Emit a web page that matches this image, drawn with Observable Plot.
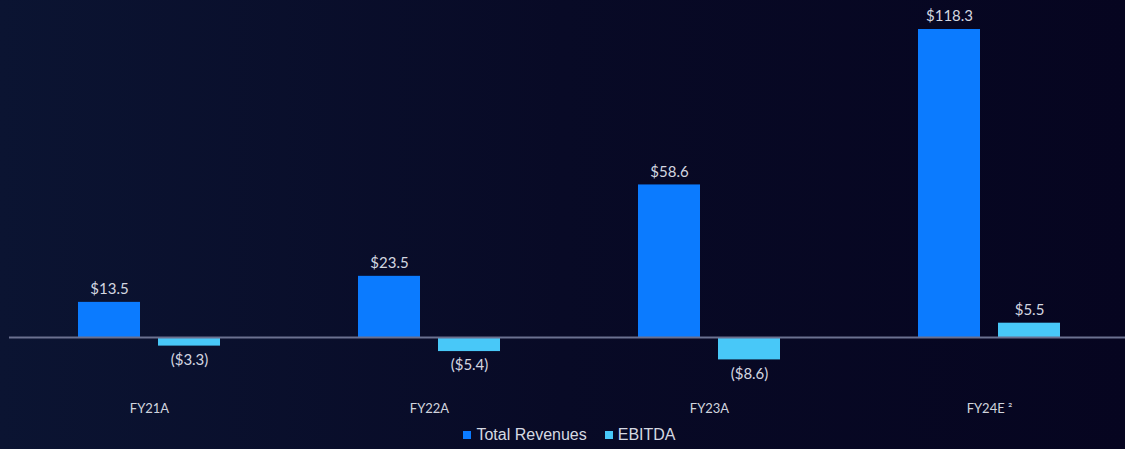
<!DOCTYPE html>
<html>
<head>
<meta charset="utf-8">
<script src="https://cdn.jsdelivr.net/npm/d3@7"></script>
<script src="https://cdn.jsdelivr.net/npm/@observablehq/plot@0.6"></script>
<style>
  html, body { margin: 0; padding: 0; }
  body { width: 1125px; height: 449px; overflow: hidden;
         background: linear-gradient(90deg, #0b1432 0%, #080a26 50%, #060520 100%); }
  #legend { height: 29px; display: flex; justify-content: center; align-items: center;
            font-family: "Liberation Sans", Arial, sans-serif; font-size: 16px; color: #d6d9e2;
            padding-left: 14px; box-sizing: border-box; }
  #legend .item { display: flex; align-items: center; margin: 0 9px; }
  #legend .sw { width: 8px; height: 8px; margin-right: 5px; }
</style>
</head>
<body>
<div id="chart"></div>
<div id="legend"></div>
<script>
const years = ["FY21A", "FY22A", "FY23A", "FY24E"];
const yearLabels = ["FY21A", "FY22A", "FY23A", "FY24E ²"];
const series = ["Total Revenues", "EBITDA"];
const revenues = [13.5, 23.5, 58.6, 118.3];
const ebitda = [-3.3, -5.4, -8.6, 5.5];
const colors = ["#0b7bff", "#48c8f8"];

const data = [];
years.forEach((yr, i) => {
  data.push({year: yr, series: series[0], value: revenues[i]});
  data.push({year: yr, series: series[1], value: ebitda[i]});
});
const fmt = v => v < 0 ? `($${Math.abs(v).toFixed(1)})` : `$${v.toFixed(1)}`;
const yearFmt = d => yearLabels[years.indexOf(d)];

const plot = Plot.plot({
  width: 1125,
  height: 420,
  marginLeft: 8,
  marginRight: -4,
  marginTop: 10,
  marginBottom: 30,
  style: {background: "transparent", overflow: "visible"},
  fx: {domain: years, padding: 0, label: null, tickFormat: yearFmt},
  x: {domain: series, paddingInner: 0.225, paddingOuter: 0.861, axis: null},
  y: {domain: [-20.35, 125.6], axis: null},
  color: {domain: series, range: colors},
  marks: [
    Plot.axisFx({anchor: "bottom", tickSize: 0, tickPadding: 13, fontSize: 13, tickFormat: yearFmt,
                 fontFamily: "Lato, 'Open Sans', sans-serif", fill: "#d0d4de", label: null}),
    Plot.barY(data, {fx: "year", x: "series", y: "value", fill: "series"}),
    Plot.ruleY([0], {stroke: "#6b7190", strokeWidth: 2}),
    Plot.text(data.filter(d => d.value >= 0), {fx: "year", x: "series", y: "value", text: d => fmt(d.value),
      dy: -13, fontSize: 15, fontFamily: "Lato, 'Open Sans', sans-serif", fill: "#d4d7e0"}),
    Plot.text(data.filter(d => d.value < 0), {fx: "year", x: "series", y: "value", text: d => fmt(d.value),
      dy: 14, fontSize: 15, fontFamily: "Lato, 'Open Sans', sans-serif", fill: "#d4d7e0"})
  ]
});
document.getElementById("chart").appendChild(plot);

const legend = document.getElementById("legend");
series.forEach((s, i) => {
  const it = document.createElement("div");
  it.className = "item";
  const sw = document.createElement("span");
  sw.className = "sw";
  sw.style.background = colors[i];
  const t = document.createElement("span");
  t.textContent = s;
  it.appendChild(sw); it.appendChild(t);
  legend.appendChild(it);
});
</script>
</body>
</html>
